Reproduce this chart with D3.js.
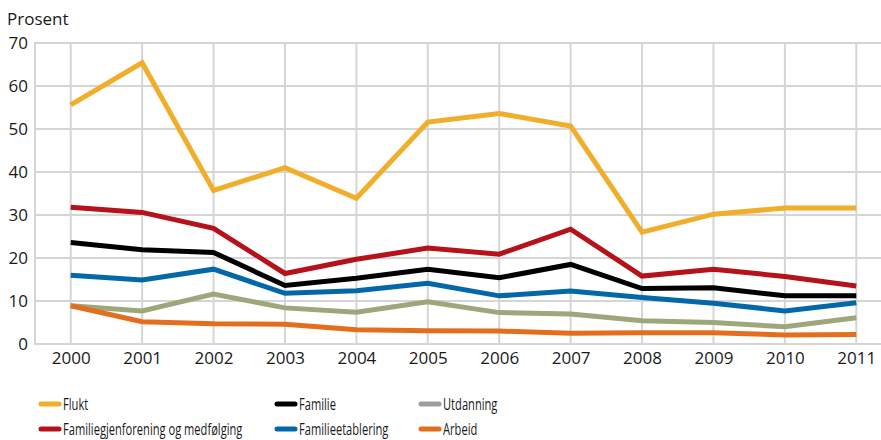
<!DOCTYPE html>
<html>
<head>
<meta charset="utf-8">
<script src="https://cdn.jsdelivr.net/npm/d3@7"></script>
<style>
  body { margin: 0; background: #fff; }
  text { font-family: "Open Sans", sans-serif; fill: #1a1a1a; }
</style>
</head>
<body>
<div id="chart"></div>
<script>
'use strict'

const years = [2000, 2001, 2002, 2003, 2004, 2005, 2006, 2007, 2008, 2009, 2010, 2011]
const yTicks = [0, 10, 20, 30, 40, 50, 60, 70]

const flukt = [55.6, 65.4, 35.7, 41.0, 33.9, 51.6, 53.6, 50.7, 26.0, 30.2, 31.6, 31.6]
const familiegjenforening = [31.8, 30.6, 26.9, 16.4, 19.7, 22.3, 20.9, 26.7, 15.8, 17.4, 15.7, 13.5]
const familie = [23.6, 21.9, 21.3, 13.6, 15.3, 17.4, 15.4, 18.5, 12.9, 13.1, 11.2, 11.2]
const familieetablering = [16.0, 14.9, 17.4, 11.8, 12.4, 14.1, 11.2, 12.3, 10.8, 9.5, 7.7, 9.6]
const utdanning = [8.9, 7.7, 11.6, 8.4, 7.4, 9.8, 7.3, 7.0, 5.4, 5.0, 4.0, 6.1]
const arbeid = [8.9, 5.2, 4.7, 4.6, 3.3, 3.1, 3.0, 2.5, 2.6, 2.6, 2.1, 2.2]

// drawing order (back to front) and legend slots
const series = [
  { name: 'Flukt', values: flukt, color: '#f0ae2a', key: '#f0ae2a', col: 0, row: 0 },
  { name: 'Utdanning', values: utdanning, color: '#9ea77a', key: '#9d9d9d', col: 2, row: 0 },
  { name: 'Arbeid', values: arbeid, color: '#e36f1e', key: '#e36f1e', col: 2, row: 1 },
  { name: 'Familieetablering', values: familieetablering, color: '#0468a8', key: '#0468a8', col: 1, row: 1 },
  { name: 'Familie', values: familie, color: '#000000', key: '#000000', col: 1, row: 0 },
  { name: 'Familiegjenforening og medfølging', values: familiegjenforening, color: '#b5121b', key: '#b5121b', col: 0, row: 1 }
]

const width = 881
const height = 440
const plotLeft = 35
const plotTop = 43
const plotBottom = 344
const gridColor = '#d5d5d5'

const svg = d3.select('#chart').append('svg')
  .attr('width', width)
  .attr('height', height)

const x = d3.scalePoint()
  .domain(years)
  .range([plotLeft, 892])
  .padding(0.5)

const y = d3.scaleLinear()
  .domain([0, 70])
  .range([plotBottom, plotTop])

// gridlines
svg.append('g')
  .selectAll('line')
  .data(yTicks)
  .join('line')
  .attr('x1', plotLeft)
  .attr('x2', width)
  .attr('y1', d => y(d))
  .attr('y2', d => y(d))
  .attr('stroke', gridColor)
  .attr('stroke-width', 2)

svg.append('g')
  .selectAll('line')
  .data(years)
  .join('line')
  .attr('x1', d => x(d))
  .attr('x2', d => x(d))
  .attr('y1', plotTop)
  .attr('y2', plotBottom)
  .attr('stroke', gridColor)
  .attr('stroke-width', 2)

svg.append('line')
  .attr('x1', plotLeft).attr('x2', plotLeft)
  .attr('y1', plotTop - 1).attr('y2', plotBottom + 1)
  .attr('stroke', gridColor)
  .attr('stroke-width', 2)

// axes
const yAxis = svg.append('g')
  .attr('transform', 'translate(' + (plotLeft - 7) + ',0)')
  .call(d3.axisLeft(y).tickValues(yTicks).tickSize(0).tickPadding(0))
yAxis.select('.domain').remove()
yAxis.selectAll('text').style('font-size', '17px').attr('dy', '0.35em')

const xAxis = svg.append('g')
  .attr('transform', 'translate(0,' + (plotBottom + 8) + ')')
  .call(d3.axisBottom(x).tickFormat(d3.format('d')).tickSize(0).tickPadding(0))
xAxis.select('.domain').remove()
xAxis.selectAll('text').style('font-size', '17px').attr('dy', '0.72em')

svg.append('text')
  .attr('x', 7)
  .attr('y', 25)
  .style('font-size', '17px')
  .text('Prosent')

// lines
const line = d3.line()
  .x((d, i) => x(years[i]))
  .y(d => y(d))

svg.append('g')
  .selectAll('path')
  .data(series)
  .join('path')
  .attr('d', d => line(d.values))
  .attr('fill', 'none')
  .attr('stroke', d => d.color)
  .attr('stroke-width', 5)
  .attr('stroke-linejoin', 'miter')

// legend (condensed type, like the original)
const colX = [39, 275, 419]
const rowY = [404, 429]
const legend = svg.append('g')
  .selectAll('g')
  .data(series)
  .join('g')
  .attr('transform', d => 'translate(' + colX[d.col] + ',' + rowY[d.row] + ')')

legend.append('line')
  .attr('x1', 2).attr('x2', 20)
  .attr('stroke', d => d.key)
  .attr('stroke-width', 5)
  .attr('stroke-linecap', 'round')

legend.append('text')
  .attr('transform', 'translate(24,0) scale(0.655,1)')
  .attr('dy', '0.35em')
  .style('font-size', '17px')
  .text(d => d.name)
</script>
</body>
</html>
